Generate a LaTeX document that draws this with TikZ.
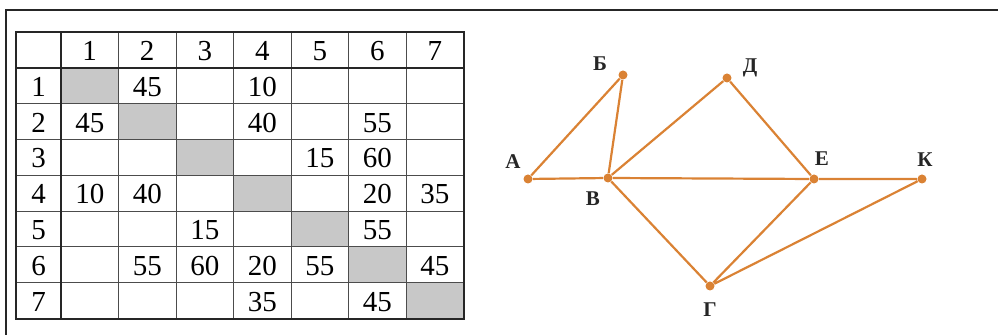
\documentclass[tikz,border=0pt]{standalone}
\usepackage{fontspec}
\setmainfont{Liberation Serif}
\definecolor{gorange}{RGB}{218,130,52}
\definecolor{cellgray}{RGB}{200,200,200}
\usepackage{tikz}
\usetikzlibrary{positioning}

\begin{document}
\begin{tikzpicture}[x=0.5pt,y=-0.5pt, every node/.style={font=\fontsize{14.5}{16}\selectfont}]
        \useasboundingbox (0,0) rectangle (998,335);
        % Frame
        \draw[line width=1pt,black!85] (998,10) -- (6,10) -- (6,335);
        % Diagonal cells
        \foreach \i in {1,...,7}
          \fill[cellgray] ({61+57.5*(\i-1)},{68+35.8*(\i-1)}) rectangle ({61+57.5*\i},{68+35.8*\i});
        % Grid
        \foreach \j in {1,...,7}
          \draw[line width=0.5pt,black!70] ({61+57.5*\j},32) -- ({61+57.5*\j},318.6);
        \foreach \i in {1,...,7}
          \draw[line width=0.5pt,black!70] (16,{68+35.8*\i}) -- (463.5,{68+35.8*\i});
        \draw[line width=1pt,black!85] (16,68) -- (463.5,68) (61,32) -- (61,318.6);
        \draw[line width=1pt,black!85] (16,32) rectangle (463.5,318.6);
        % Headers
        \foreach \k in {1,...,7} {
          \node (h\k) at ({61+57.5*(\k-0.5)},51) {\k};
          \node (r\k) at (38.5,{68+35.8*(\k-0.5)+1}) {\k};
        }
        % Weights
        \foreach \i/\j/\w in {1/2/45, 1/4/10, 2/1/45, 2/4/40, 2/6/55, 3/5/15, 3/6/60,
                              4/1/10, 4/2/40, 4/6/20, 4/7/35, 5/3/15, 5/6/55,
                              6/2/55, 6/3/60, 6/4/20, 6/5/55, 6/7/45, 7/4/35, 7/6/45}
          \node (w\i\j) at ({61+57.5*(\j-0.5)},{68+35.8*(\i-0.5)+1}) {\w};
        % Graph vertices
        \tikzset{vertex/.style={circle,fill=gorange,inner sep=0pt,minimum size=4.5pt},
                 vlabel/.style={font=\fontsize{10.5}{12}\selectfont\bfseries,text=black!85}}
        \node[vertex] (A) at (528,179) {};
        \node[vertex] (B) at (623,75) {};
        \node[vertex] (D) at (727,78) {};
        \node[vertex] (V) at (608,178) {};
        \node[vertex] (E) at (814,179) {};
        \node[vertex] (K) at (922,179) {};
        \node[vertex] (G) at (710,286) {};
        % Edges
        \draw[gorange,line width=1.1pt] (A)--(B) (A)--(V) (B)--(V) (V)--(D) (D)--(E)
              (V)--(E) (E)--(K) (V)--(G) (G)--(E) (G)--(K);
        % Labels
        \node[vlabel] (lA) at (513,162) {А};
        \node[vlabel] (lB) at (600,64) {Б};
        \node[vlabel] (lD) at (750,68) {Д};
        \node[vlabel] (lV) at (593,199) {В};
        \node[vlabel] (lE) at (822,159) {Е};
        \node[vlabel] (lK) at (925,160) {К};
        \node[vlabel] (lG) at (710,310) {Г};
      \end{tikzpicture}
\end{document}
